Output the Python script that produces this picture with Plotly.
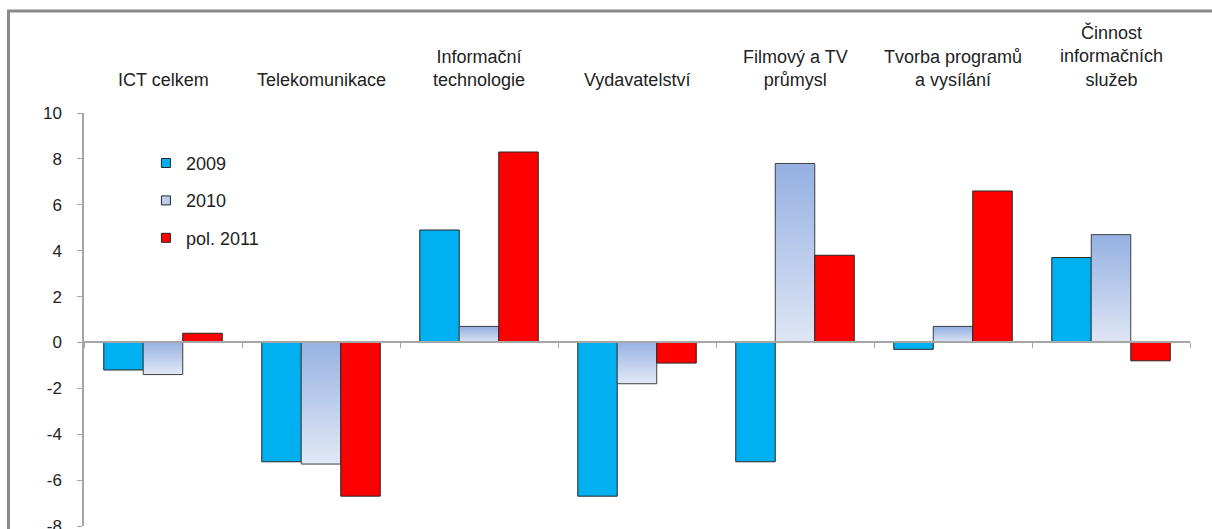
import plotly.graph_objects as go

categories = ["ICT celkem", "Telekomunikace", "Informační<br>technologie", "Vydavatelství",
              "Filmový a TV<br>průmysl", "Tvorba programů<br>a vysílání", "Činnost<br>informačních<br>služeb"]
series_names = ["2009", "2010", "pol. 2011"]
v2009 = [-1.2, -5.2, 4.9, -6.7, -5.2, -0.3, 3.7]
v2010 = [-1.4, -5.3, 0.7, -1.8, 7.8, 0.7, 4.7]
v2011 = [0.4, -6.7, 8.3, -0.9, 3.8, 6.6, -0.8]
y_ticks = [-8, -6, -4, -2, 0, 2, 4, 6, 8, 10]
y_tick_labels = ["-8", "-6", "-4", "-2", "0", "2", "4", "6", "8", "10"]

C2009 = "#00B0F0"
C2011 = "#FF0000"
GRAD_TOP = (150, 177, 226)
GRAD_BOT = (224, 231, 245)
EDGE = "#262626"
AXIS = "#A6A6A6"
TXT = "#222222"
FONT = "Liberation Sans, Arial, sans-serif"
W = 0.25

FW, FH = 1212, 529
ML, MT, MR, MB = 84, 113, 22, 3
PW = FW - ML - MR
PH = FH - MT - MB

fig = go.Figure()

fig.add_trace(go.Bar(x=categories, y=v2009, width=W, offset=-1.5 * W,
                     marker=dict(color=C2009, line=dict(color=EDGE, width=1)),
                     showlegend=False, hoverinfo="skip"))

# gradient fill for 2010 built from overlapping slices
N = 40
def mix(t):
    r = [int(round(GRAD_TOP[i] + (GRAD_BOT[i] - GRAD_TOP[i]) * t)) for i in range(3)]
    return "rgb(%d,%d,%d)" % tuple(r)

for k in range(N):
    bases, heights, cols = [], [], []
    for v in v2010:
        step = v / N
        ext = 0.0 if k == 0 else 0.8
        bases.append(step * (k - ext))
        heights.append(step * (1 + ext))
        t = 1 - (k + 0.5) / N if v >= 0 else (k + 0.5) / N
        cols.append(mix(t))
    fig.add_trace(go.Bar(x=categories, y=heights, base=bases, width=W, offset=-0.5 * W,
                         marker=dict(color=cols, line=dict(width=0)),
                         showlegend=False, hoverinfo="skip"))

fig.add_trace(go.Bar(x=categories, y=v2010, width=W, offset=-0.5 * W,
                     marker=dict(color="rgba(0,0,0,0)", line=dict(color="#404040", width=1)),
                     showlegend=False, hoverinfo="skip"))

fig.add_trace(go.Bar(x=categories, y=v2011, width=W, offset=0.5 * W,
                     marker=dict(color=C2011, line=dict(color=EDGE, width=1)),
                     showlegend=False, hoverinfo="skip"))

# legend entries
for name, col in zip(series_names, [C2009, mix(0.5), C2011]):
    fig.add_trace(go.Scatter(x=[None], y=[None], mode="markers", name=name,
                             marker=dict(symbol="square", size=9, color=col,
                                         line=dict(color=EDGE, width=1)),
                             legendgroup=name))

for c in categories:
    fig.add_annotation(x=c, y=1, xref="x", yref="paper", text=c, showarrow=False,
                       yanchor="bottom", yshift=21, align="center",
                       font=dict(family=FONT, size=18, color=TXT))

# outer chart border
bx, by = 8.5, 11
fig.add_shape(type="rect", xref="paper", yref="paper",
              x0=(bx - ML) / PW, x1=1.2, y0=-0.2, y1=(FH - MB - by) / PH,
              line=dict(color="#8A8A8A", width=3), fillcolor="rgba(0,0,0,0)", layer="above")

fig.update_layout(
    width=FW, height=FH,
    margin=dict(l=ML, r=MR, t=MT, b=MB, autoexpand=False),
    barmode="overlay",
    plot_bgcolor="white", paper_bgcolor="white",
    font=dict(family=FONT, size=17, color=TXT),
    showlegend=True,
    legend=dict(x=0.056, y=0.923, xanchor="left", yanchor="top",
                bgcolor="rgba(0,0,0,0)", borderwidth=0,
                traceorder="grouped", tracegroupgap=11,
                font=dict(family=FONT, size=18, color=TXT),
                itemwidth=30),
    xaxis=dict(type="category", anchor="free", position=8 / 18,
               showline=True, linecolor=AXIS, linewidth=1.5,
               ticks="outside", tickson="boundaries", ticklen=5, tickcolor=AXIS, tickwidth=1,
               showticklabels=False, showgrid=False, zeroline=False, fixedrange=True),
    yaxis=dict(range=[-8, 10], tickvals=y_ticks, ticktext=y_tick_labels,
               showline=True, linecolor=AXIS, linewidth=1.5, ticklabeloverflow="allow",
               ticks="outside", ticklen=5, tickcolor=AXIS, showgrid=False, zeroline=False,
               tickfont=dict(family=FONT, size=17, color=TXT), ticklabelstandoff=12),
)

fig.write_html("out.html", config={"displayModeBar": False},
               post_script="document.body.style.margin='0';document.body.style.overflow='hidden';")
